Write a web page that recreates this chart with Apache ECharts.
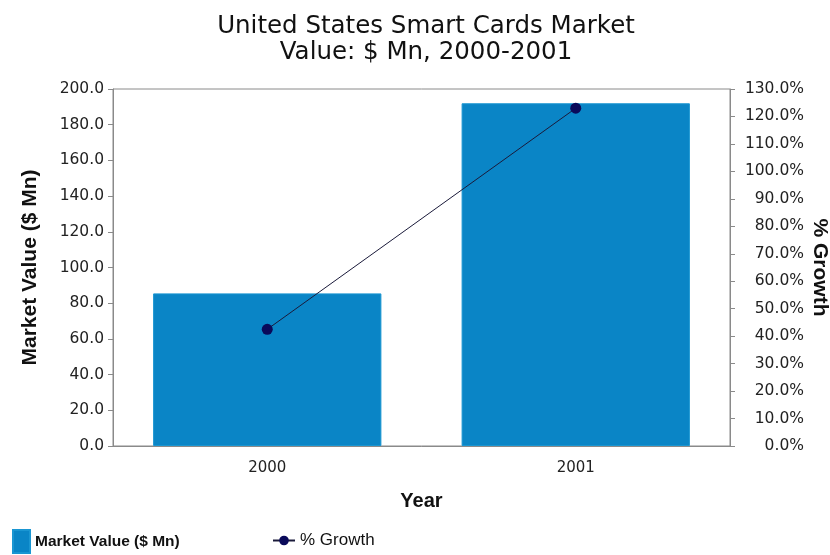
<!DOCTYPE html>
<html>
<head>
<meta charset="utf-8">
<style>
  html, body { margin: 0; padding: 0; background: #ffffff; }
  #chart { width: 830px; height: 555px; }
</style>
<script src="https://cdn.jsdelivr.net/npm/echarts@6/dist/echarts.min.js"></script>
</head>
<body>
<div id="chart"></div>
<script>
// Market value and growth figures
const years = ['2000', '2001'];
const marketValue = [85.5, 192.0];
const growthPct = [42.5, 123.0];
const valueTicks = { min: 0, max: 200, interval: 20 };
const growthTicks = { min: 0, max: 130, interval: 10 };

const wide = '"DejaVu Sans", Verdana, sans-serif';
const bold = '"Liberation Sans", Arial, sans-serif';

const chart = echarts.init(document.getElementById('chart'));
chart.setOption({
  animation: false,
  backgroundColor: '#ffffff',
  title: {
    text: 'United States Smart Cards Market\nValue: $ Mn, 2000-2001',
    left: 421,
    textAlign: 'center',
    top: 9,
    textStyle: {
      fontFamily: wide,
      fontSize: 24.5,
      fontWeight: 'normal',
      color: '#111',
      lineHeight: 26
    }
  },
  grid: {
    left: 113, right: 100, top: 89, bottom: 109,
    outerBoundsMode: 'none',
    containLabel: false,
    show: true, borderColor: '#8a8a8a', borderWidth: 1, backgroundColor: '#ffffff'
  },
  legend: [
    {
      data: [{ name: 'Market Value ($ Mn)', icon: 'rect' }],
      left: 12, top: 529,
      padding: 0,
      itemWidth: 17, itemHeight: 23,
      textStyle: { fontFamily: bold, fontSize: 15.5, fontWeight: 'bold', color: '#111', padding: [0, 0, 0, 0] }
    },
    {
      data: ['% Growth'],
      left: 272, top: 532,
      padding: 0,
      itemWidth: 22, itemHeight: 12,
      textStyle: { fontFamily: bold, fontSize: 17, color: '#111', padding: [0, 0, 0, 0] }
    }
  ],
  xAxis: {
    type: 'category',
    data: years,
    name: 'Year',
    nameLocation: 'middle',
    nameGap: 45,
    nameTextStyle: { fontFamily: bold, fontSize: 20, fontWeight: 'bold', color: '#111' },
    axisLine: { lineStyle: { color: '#8a8a8a' } },
    axisTick: { alignWithLabel: true, length: 4, lineStyle: { color: '#8a8a8a' } },
    axisLabel: { fontFamily: wide, fontSize: 15, color: '#222', margin: 15 }
  },
  yAxis: [
    {
      type: 'value',
      min: valueTicks.min, max: valueTicks.max, interval: valueTicks.interval,
      name: 'Market Value ($ Mn)',
      nameLocation: 'middle',
      nameRotate: 90,
      nameGap: 72,
      nameMoveOverlap: false,
      nameTextStyle: { fontFamily: bold, fontSize: 21, fontWeight: 'bold', color: '#111' },
      axisLine: { show: true, lineStyle: { color: '#8a8a8a' } },
      axisTick: { show: true, length: 5, lineStyle: { color: '#8a8a8a' } },
      splitLine: { show: false },
      axisLabel: { fontFamily: wide, fontSize: 15.5, color: '#222', margin: 9, formatter: v => v.toFixed(1) }
    },
    {
      type: 'value',
      position: 'right',
      min: growthTicks.min, max: growthTicks.max, interval: growthTicks.interval,
      name: '% Growth',
      nameLocation: 'middle',
      nameRotate: -90,
      nameGap: 79,
      nameMoveOverlap: false,
      nameTextStyle: { fontFamily: bold, fontSize: 21, fontWeight: 'bold', color: '#111' },
      axisLine: { show: true, lineStyle: { color: '#8a8a8a' } },
      axisTick: { show: true, length: 5, lineStyle: { color: '#8a8a8a' } },
      splitLine: { show: false },
      axisLabel: { fontFamily: wide, fontSize: 15.5, color: '#222', margin: 74, align: 'right', formatter: v => v.toFixed(1) + '%' }
    }
  ],
  series: [
    {
      name: 'Market Value ($ Mn)',
      type: 'bar',
      yAxisIndex: 0,
      data: marketValue,
      barCategoryGap: '26%',
      itemStyle: { color: '#0a85c6', borderColor: '#1a96d2', borderWidth: 1 }
    },
    {
      name: '% Growth',
      type: 'line',
      yAxisIndex: 1,
      data: growthPct,
      symbol: 'circle',
      symbolSize: 11,
      lineStyle: { color: '#1a1a3a', width: 1 },
      itemStyle: { color: '#0a0a5a' },
      z: 5
    }
  ]
});
</script>
</body>
</html>
